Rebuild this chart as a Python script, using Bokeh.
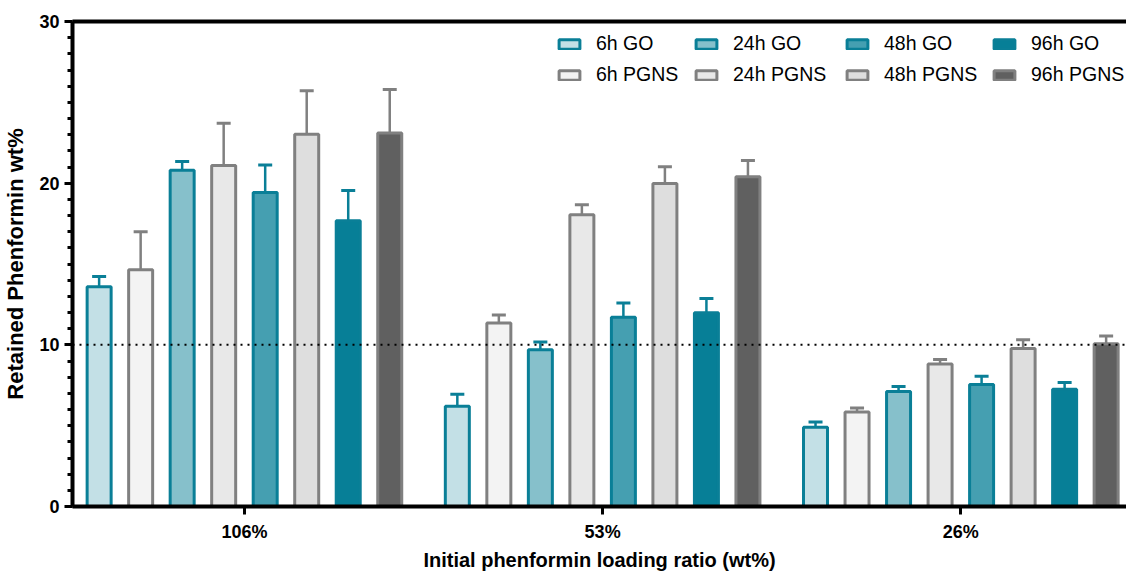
from bokeh.plotting import figure
from bokeh.models import (Range1d, FixedTicker, SingleIntervalTicker, LinearAxis,
                          Legend, LegendItem, Span, Whisker, TeeHead, ColumnDataSource)
from bokeh.embed import file_html
from bokeh.resources import INLINE

# ---- data ----
groups = ["106%", "53%", "26%"]
series = ["6h GO", "6h PGNS", "24h GO", "24h PGNS", "48h GO", "48h PGNS", "96h GO", "96h PGNS"]
go_6h = [13.6, 6.2, 4.9]
go_6h_err = [0.63, 0.75, 0.33]
pgns_6h = [14.65, 11.35, 5.85]
pgns_6h_err = [2.35, 0.5, 0.25]
go_24h = [20.8, 9.7, 7.12]
go_24h_err = [0.54, 0.47, 0.31]
pgns_24h = [21.1, 18.05, 8.82]
pgns_24h_err = [2.6, 0.62, 0.27]
go_48h = [19.42, 11.7, 7.55]
go_48h_err = [1.7, 0.88, 0.51]
pgns_48h = [23.02, 19.98, 9.77]
pgns_48h_err = [2.7, 1.03, 0.54]
go_96h = [17.67, 11.98, 7.26]
go_96h_err = [1.87, 0.88, 0.41]
pgns_96h = [23.1, 20.4, 10.06]
pgns_96h_err = [2.7, 1.0, 0.49]
reference_level = 10

values = [go_6h, pgns_6h, go_24h, pgns_24h, go_48h, pgns_48h, go_96h, pgns_96h]
errors = [go_6h_err, pgns_6h_err, go_24h_err, pgns_24h_err, go_48h_err, pgns_48h_err, go_96h_err, pgns_96h_err]

# ---- styles ----
TEAL = "#0a7f97"
GRAY = "#808080"
fills = ["#c3e0e6", "#f3f3f3", "#86c0cb", "#e8e8e8", "#459fb1", "#dedede", "#077f97", "#606060"]
lines = [TEAL, GRAY, TEAL, GRAY, TEAL, GRAY, TEAL, GRAY]
FONT = "Liberation Sans"

p = figure(frame_width=1054, frame_height=485, output_backend="svg", toolbar_location=None,
           x_range=Range1d(-0.48, 2.4625), y_range=Range1d(0, 30),
           min_border_left=72, min_border_right=0, min_border_top=21, min_border_bottom=0)
p.outline_line_color = None
p.xgrid.visible = False
p.ygrid.visible = False
p.background_fill_color = "white"

step = 0.1159
bw = 0.067
renderers = []
for i, name in enumerate(series):
    off = (i - 3.5) * step
    xs = [g + off for g in range(len(groups))]
    src = ColumnDataSource(dict(x=xs, top=values[i],
                                up=[v + e for v, e in zip(values[i], errors[i])]))
    w = Whisker(source=src, base="x", lower="top", upper="up",
                line_color=lines[i], line_width=2.5,
                lower_head=None,
                upper_head=TeeHead(size=14, line_color=lines[i], line_width=3))
    w.level = "underlay"
    p.add_layout(w)
    r = p.vbar(x="x", top="top", bottom=0, width=bw, source=src,
               fill_color=fills[i], line_color=lines[i], line_width=3)
    renderers.append(r)

p.add_layout(Span(location=reference_level, dimension="width", line_color="black",
                  line_width=2, line_dash="2 5"))

# axes
p.xaxis.ticker = FixedTicker(ticks=list(range(len(groups))))
p.xaxis.major_label_overrides = {i: g for i, g in enumerate(groups)}
p.yaxis.ticker = SingleIntervalTicker(interval=10, num_minor_ticks=10)
for ax in (p.xaxis[0], p.yaxis[0]):
    ax.axis_line_width = 4
    ax.axis_line_color = "black"
    ax.major_tick_line_width = 3
    ax.major_tick_line_color = "black"
    ax.major_tick_in = 0
    ax.major_tick_out = 8
    ax.major_label_text_font = FONT
    ax.major_label_text_font_style = "bold"
    ax.major_label_text_font_size = "18px"
    ax.major_label_text_color = "black"
    ax.axis_label_text_font = FONT
    ax.axis_label_text_font_style = "bold"
    ax.axis_label_text_color = "black"
p.xaxis.axis_label_text_font_size = "20px"
p.yaxis.axis_label_text_font_size = "22px"
p.xaxis.minor_tick_line_color = None
p.yaxis.minor_tick_line_width = 3
p.yaxis.minor_tick_line_color = "black"
p.yaxis.minor_tick_in = 0
p.yaxis.minor_tick_out = 5
p.xaxis.major_label_standoff = 7
p.yaxis.major_label_standoff = 5
p.xaxis.axis_label = "Initial phenformin loading ratio (wt%)"
p.yaxis.axis_label = "Retained Phenformin wt%"
p.xaxis.axis_label_standoff = 4
p.yaxis.axis_label_standoff = 8

top_axis = LinearAxis(ticker=FixedTicker(ticks=[]), axis_line_width=4, axis_line_color="black",
                      major_tick_out=0, major_tick_in=0, minor_tick_out=0, minor_tick_in=0,
                      major_label_standoff=0, major_label_text_font_size="0px")
p.add_layout(top_axis, "above")

# legend: one column per time point (GO above PGNS)
col_x = [484, 621, 772, 919]
for c in range(4):
    items = [LegendItem(label=series[2 * c], renderers=[renderers[2 * c]]),
             LegendItem(label=series[2 * c + 1], renderers=[renderers[2 * c + 1]])]
    lg = Legend(items=items, orientation="vertical",
                location=(col_x[c], 416), padding=0, margin=0, spacing=0,
                glyph_width=26, glyph_height=12, label_standoff=14,
                label_height=31,
                label_text_font=FONT, label_text_font_size="19.5px", label_text_color="black",
                border_line_color=None, background_fill_alpha=0)
    p.add_layout(lg)

open("out.html", "w").write(file_html(p, INLINE))
